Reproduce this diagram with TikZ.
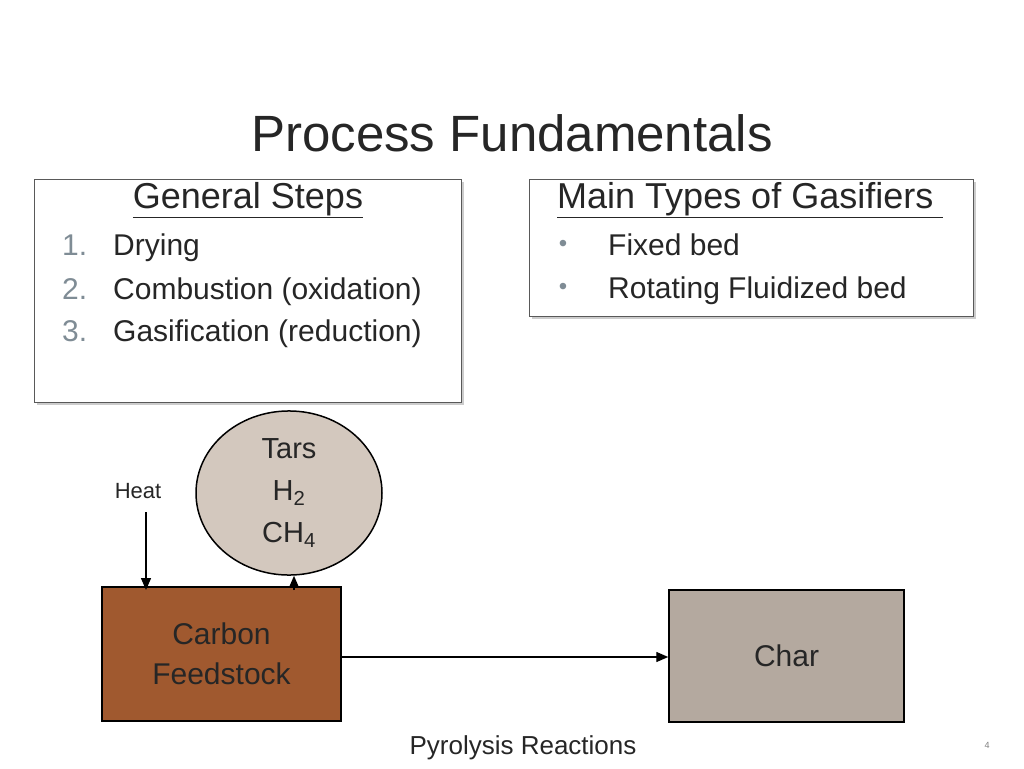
\documentclass[tikz,border=0pt]{standalone}
\usepackage{fontspec}
\setmainfont{Liberation Sans}
\usetikzlibrary{shapes.geometric,arrows.meta}
\definecolor{brownbox}{HTML}{A0592F}
\definecolor{charbox}{HTML}{B4A99F}
\definecolor{ellfill}{HTML}{D3C8BE}
\definecolor{numgray}{HTML}{7F8C95}
\begin{document}
\begin{tikzpicture}[x=1pt,y=-1pt,
  panel/.style={draw=gray!70!black,line width=1pt},
  blk/.style={draw=black,line width=1.5pt},
  arr/.style={-{Triangle[length=12pt,width=10pt]},line width=1.4pt},
  big/.style={font=\fontsize{36}{40}\selectfont,text=black!85},
  item/.style={font=\fontsize{30}{34}\selectfont,text=black!85,anchor=base west,inner sep=0pt}]
\useasboundingbox (0,0) rectangle (1024,768);
\node[font=\fontsize{51}{56}\selectfont,text=black!85] (title) at (512,133) {Process Fundamentals};
% box 1
\fill[gray!40] (37,182) rectangle (464,405);
\draw[panel,fill=white] (34,179) rectangle (461,402);
\node[big] (gs) at (248,200) {\underline{General Steps}};
\node[item,text=numgray] (n1) at (62,255) {1.};
\node[item,text=numgray] (n2) at (62,299) {2.};
\node[item,text=numgray] (n3) at (62,341) {3.};
\node[item] (s1) at (113,255) {Drying};
\node[item] (s2) at (113,299) {Combustion (oxidation)};
\node[item] (s3) at (113,341) {Gasification (reduction)};
% box 2
\fill[gray!40] (532,182) rectangle (976,319);
\draw[panel,fill=white] (529,179) rectangle (973,316);
\node[big,anchor=west,inner sep=0pt] (mt) at (557,200) {\underline{Main Types of Gasifiers\ }};
\node[text=numgray,font=\fontsize{24}{26}\selectfont] (b1) at (563,246) {•};
\node[text=numgray,font=\fontsize{24}{26}\selectfont] (b2) at (563,289) {•};
\node[item] (t1) at (608,255) {Fixed bed};
\node[item] (t2) at (608,298) {Rotating Fluidized bed};
% diagram
\node[ellipse,draw=black,line width=1.5pt,fill=ellfill,minimum width=186pt,minimum height=156pt,
  font=\fontsize{29}{42}\selectfont,align=center,text=black!85] (gas) at (289,493) {Tars\\H\textsubscript{2}\\CH\textsubscript{4}};
\node[font=\fontsize{22}{24}\selectfont,text=black!85] (heat) at (138,491) {Heat};
\node[blk,fill=brownbox,minimum width=239pt,minimum height=134pt,align=center,
  font=\fontsize{30}{40}\selectfont,text=black!85] (cf) at (221.5,654) {Carbon\\Feedstock};
\node[blk,fill=charbox,minimum width=235pt,minimum height=132pt,
  font=\fontsize{30}{34}\selectfont,text=black!85] (char) at (786.5,656) {Char};
\coordinate (hs) at (146,512);
\draw[arr] (hs) -- (146,590);
\draw[arr] (294,590) -- (gas.south -| 294,0);
\draw[arr] (341,657) -- (char.west |- 0,657);
\node[font=\fontsize{26}{30}\selectfont,text=black!85] (pr) at (523,748) {Pyrolysis Reactions};
\node[font=\fontsize{9}{10}\selectfont,text=gray] (pg) at (987,745) {4};
\end{tikzpicture}
\end{document}
